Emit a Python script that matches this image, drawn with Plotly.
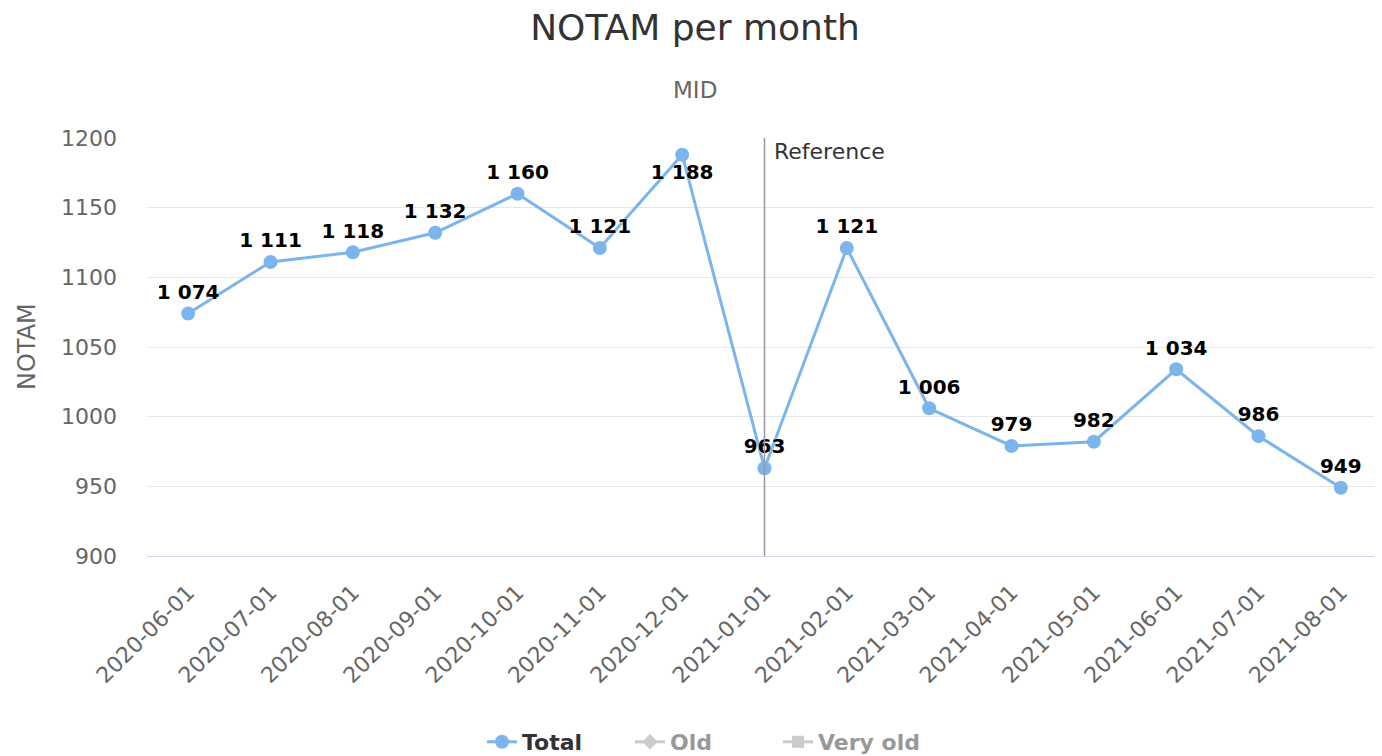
import plotly.graph_objects as go

months = ["2020-06-01", "2020-07-01", "2020-08-01", "2020-09-01", "2020-10-01",
          "2020-11-01", "2020-12-01", "2021-01-01", "2021-02-01", "2021-03-01",
          "2021-04-01", "2021-05-01", "2021-06-01", "2021-07-01", "2021-08-01"]
total = [1074, 1111, 1118, 1132, 1160, 1121, 1188, 963, 1121, 1006, 979, 982, 1034, 986, 949]
# "Old" and "Very old" series are hidden in the reference (legend only)
old = [None, None, None, None, None, None, None, None, None, None, None, None, None, None, None]
very_old = [None, None, None, None, None, None, None, None, None, None, None, None, None, None, None]
reference_month = "2021-01-01"
y_ticks = [900, 950, 1000, 1050, 1100, 1150, 1200]

FONT = "DejaVu Sans"
OFF = 8  # page body margin of the html page
W, H = 1382 - OFF, 756 - OFF
L, R, T = 147 - OFF, 0, 138 - OFF
B = H - (556 - OFF)
PW = W - L - R
PH = H - T - B


def px_x(x):
    return (x - OFF - L) / PW


def px_y(y):
    return (H - B - (y - OFF)) / PH


label_pos = ["bottom center" if v == max(total) else "top center" for v in total]

fig = go.Figure()
fig.add_trace(go.Scatter(
    x=months, y=total, name="<b>Total</b>", mode="lines+markers+text",
    line=dict(color="#7cb5ec", width=3),
    marker=dict(color="#7cb5ec", size=14, symbol="circle"),
    texttemplate="<b>%{y:,}</b>", textposition=label_pos,
    textfont=dict(family=FONT, size=20, color="#000000", shadow="0px 0px 2px #ffffff"),
    cliponaxis=False,
))
fig.add_trace(go.Scatter(
    x=months, y=old, name="<b>Old</b>", mode="lines+markers",
    line=dict(color="#999999", width=3),
    marker=dict(color="#999999", size=12, symbol="diamond"),
    visible="legendonly",
))
fig.add_trace(go.Scatter(
    x=months, y=very_old, name="<b>Very old</b>", mode="lines+markers",
    line=dict(color="#999999", width=3),
    marker=dict(color="#999999", size=12, symbol="square"),
    visible="legendonly",
))

fig.add_shape(type="line", xref="x", yref="paper", x0=reference_month, x1=reference_month,
              y0=0, y1=1, line=dict(color="#999999", width=1.5))
fig.add_annotation(x=reference_month, xref="x", y=px_y(151), yref="paper", text="Reference",
                   showarrow=False, xanchor="left", yanchor="middle", xshift=7,
                   font=dict(family=FONT, size=22, color="#333333"))
fig.add_annotation(x=px_x(695), xref="paper", y=px_y(90), yref="paper",
                   text="MID", showarrow=False, xanchor="center", yanchor="middle",
                   font=dict(family=FONT, size=23, color="#666666"))
fig.add_annotation(x=px_x(27), xref="paper", y=px_y(347), yref="paper",
                   text="NOTAM", showarrow=False, xanchor="center", yanchor="middle",
                   textangle=-90,
                   font=dict(family=FONT, size=24, color="#666666"))

fig.update_layout(
    width=W, height=H,
    paper_bgcolor="#ffffff", plot_bgcolor="#ffffff",
    separators=". ",
    font=dict(family=FONT, color="#666666"),
    title=dict(text="NOTAM per month", x=(695 - OFF) / W, xanchor="center",
               y=1 - (27 - OFF) / H, yanchor="middle",
               font=dict(family=FONT, size=36, color="#333333")),
    margin=dict(l=L, r=R, t=T, b=B, autoexpand=False),
    showlegend=True,
    legend=dict(orientation="h", x=px_x(482), xanchor="left",
                y=px_y(742), yanchor="middle", entrywidth=103,
                font=dict(family=FONT, size=22, color="#333333")),
    xaxis=dict(type="category", range=[-0.5, len(months) - 0.5], tickangle=-45,
               automargin=False,
               showgrid=False, showline=True, linecolor="#ccd6eb", linewidth=1,
               ticks="", ticklabelstandoff=14,
               tickfont=dict(family=FONT, size=22, color="#666666")),
    yaxis=dict(range=[900, 1200], tickvals=y_ticks, showgrid=True, gridcolor="#e6e6e6",
               automargin=False,
               zeroline=False, showline=False, ticks="", ticklabelstandoff=29,
               tickfont=dict(family=FONT, size=22, color="#666666")),
)

fig.write_html("out.html")
